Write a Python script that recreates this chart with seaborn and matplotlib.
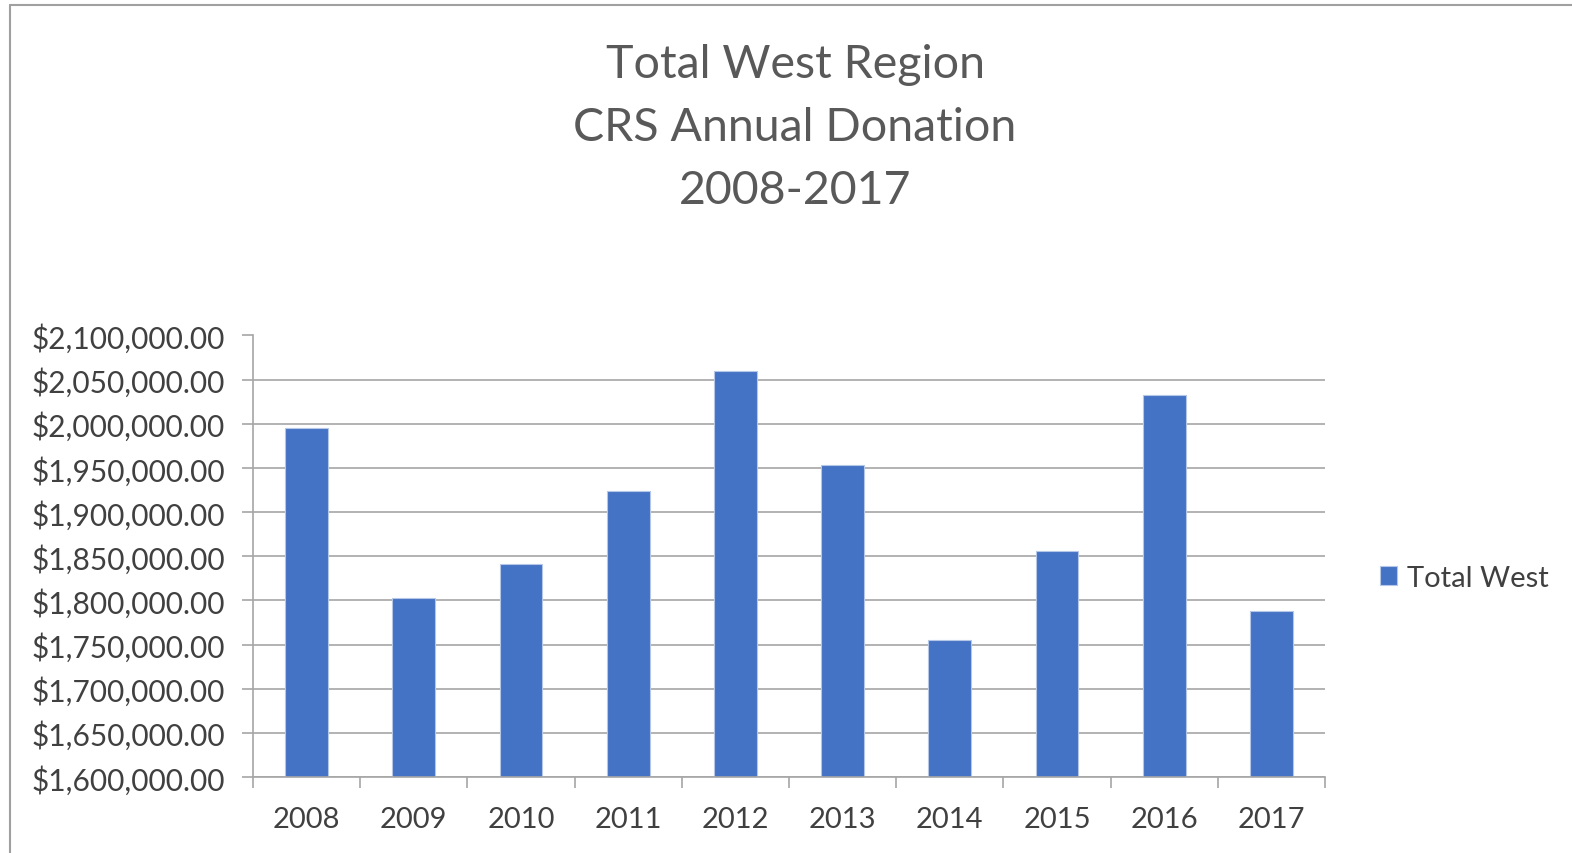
import pandas as pd
import matplotlib.pyplot as plt
import matplotlib.ticker as mticker
from matplotlib.lines import Line2D
import seaborn as sns

# values
years = ["2008", "2009", "2010", "2011", "2012", "2013", "2014", "2015", "2016", "2017"]
donations = [1995500, 1802600, 1841500, 1923400, 2059800, 1953700, 1755300, 1855700, 2033100, 1787900]
series_name = "Total West"
title_lines = ["Total West Region", "CRS Annual Donation", "2008-2017"]

df = pd.DataFrame({"year": years, "donation": donations, "series": series_name})

sns.set_theme(style="white")
plt.rcParams["font.family"] = ["Lato", "DejaVu Sans"]

W, H = 1572, 854
fig = plt.figure(figsize=(W / 100, H / 100), dpi=100)
ax = fig.add_axes([253 / W, (H - 778) / H, 1072 / W, (778 - 336.5) / H])

sns.barplot(data=df, x="year", y="donation", hue="series", palette=["#4472C4"],
            saturation=1, width=0.4, edgecolor="#b4c7e7", linewidth=0.8, ax=ax, legend=True)

ax.set_ylim(1600000, 2100000)
ax.set_xlim(-0.5, len(years) - 0.5)
ax.yaxis.set_major_locator(mticker.MultipleLocator(50000))
ax.yaxis.set_major_formatter(mticker.FuncFormatter(lambda v, p: "${:,.2f}".format(v)))
ax.grid(axis="y", color="#a6a6a6", linewidth=1.2)
ax.set_axisbelow(True)
ax.set_xlabel("")
ax.set_ylabel("")

for s in ["top", "right"]:
    ax.spines[s].set_visible(False)
ax.spines["left"].set_color("#a6a6a6")
ax.spines["bottom"].set_color("#a6a6a6")
ax.spines["left"].set_linewidth(1.2)
ax.spines["bottom"].set_linewidth(1.2)

# category ticks sit between the bars
ax.set_xticks([i - 0.5 for i in range(len(years) + 1)], minor=True)
ax.tick_params(axis="x", which="minor", length=8, width=1.2, color="#a6a6a6", bottom=True)
ax.tick_params(axis="x", which="major", length=0, pad=21, labelsize=21, labelcolor="#404040")
ax.tick_params(axis="y", length=8, width=1.2, color="#a6a6a6", left=True, pad=12,
               labelsize=21.5, labelcolor="#404040")

leg = ax.legend(loc="center left", bbox_to_anchor=(1365 / W, 1 - 579 / H),
                bbox_transform=fig.transFigure, frameon=False, fontsize=21,
                handlelength=0.6, handleheight=0.6, handletextpad=0.35, borderpad=0)
for t in leg.get_texts():
    t.set_color("#404040")

for i, line in enumerate(title_lines):
    fig.text(795 / W, 1 - (65 + i * 63) / H, line, ha="center", va="center",
             fontsize=33.5, color="#595959")

# chart border (left and top visible)
fig.add_artist(Line2D([10 / W, 10 / W], [0, 1 - 5.5 / H], transform=fig.transFigure,
                      color="#a0a0a0", linewidth=1.5))
fig.add_artist(Line2D([10 / W, 1], [1 - 5.5 / H, 1 - 5.5 / H], transform=fig.transFigure,
                      color="#a0a0a0", linewidth=1.5))

fig.savefig("out.png", dpi=100, facecolor="white")
